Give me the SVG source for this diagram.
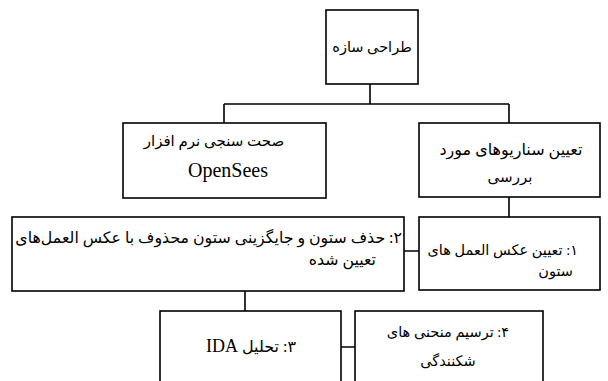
<svg xmlns="http://www.w3.org/2000/svg" width="608" height="381" viewBox="0 0 608 381">
<style>
.box{fill:#fff;stroke:#000;stroke-width:1.6}
.ln{fill:none;stroke:#000;stroke-width:1.6}
.t{font-family:"Liberation Serif","DejaVu Sans",serif;font-size:14.5px;fill:#000}
.c{text-anchor:middle}
.r{direction:rtl;text-anchor:start}
</style>
<rect width="608" height="381" fill="#fff"/>
<g id="connectors">
<path class="ln" d="M370,84V104M224,104H509M224,104V123M509,104V123M509,197V217M404,251H419M245,291V311M341,347H355"/>
</g>
<g id="n0">
<rect class="box" x="326" y="10" width="92" height="74"/>
<text class="t c" x="372" y="52" direction="rtl">طراحی سازه</text>
</g>
<g id="n_opensees">
<rect class="box" x="123" y="123" width="203" height="75"/>
<text class="t c" x="214" y="146" direction="rtl" style="font-size:15px">صحت سنجی نرم افزار</text>
<text class="t c" x="228" y="177" style="font-size:20px">OpenSees</text>
</g>
<g id="n_scenarios">
<rect class="box" x="419" y="123" width="181" height="74"/>
<text class="t c" x="511" y="155" direction="rtl" style="font-size:16px">تعیین سناریوهای مورد</text>
<text class="t c" x="510" y="182" direction="rtl" style="font-size:15px">بررسی</text>
</g>
<g id="n1">
<rect class="box" x="419" y="217" width="181" height="73"/>
<text class="t r" x="578" y="255" style="font-size:14.5px">۱: تعیین عکس العمل های</text>
<text class="t r" x="573" y="276" style="font-size:14.5px">ستون</text>
</g>
<g id="n2">
<rect class="box" x="12" y="217" width="392" height="74"/>
<text class="t r" x="402" y="243" style="font-size:15.8px">۲: حذف ستون و جایگزینی ستون محذوف با عکس العمل‌های</text>
<text class="t r" x="376" y="265" style="font-size:15.8px">تعیین شده</text>
</g>
<g id="n3">
<rect class="box" x="160" y="311" width="181" height="80"/>
<text class="t c" x="251" y="352" direction="rtl" style="font-size:16px">۳: تحلیل <tspan style="font-size:18px">IDA</tspan></text>
</g>
<g id="n4">
<rect class="box" x="355" y="311" width="188" height="80"/>
<text class="t c" x="448" y="337" direction="rtl">۴: ترسیم منحنی های</text>
<text class="t c" x="448" y="366" direction="rtl">شکنندگی</text>
</g>
</svg>
